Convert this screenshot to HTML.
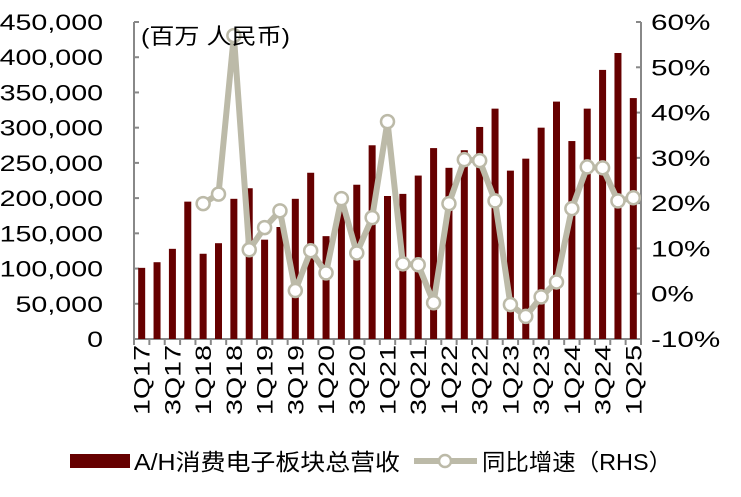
<!DOCTYPE html>
<html><head><meta charset="utf-8"><style>
body{margin:0;background:#fff;}
svg text{font-family:"Liberation Sans","Noto Sans CJK SC",sans-serif;fill:#000;}
</style></head><body>
<svg id="chart" width="741" height="492" xmlns="http://www.w3.org/2000/svg"></svg>
<script>
const categories=["1Q17","2Q17","3Q17","4Q17","1Q18","2Q18","3Q18","4Q18","1Q19","2Q19","3Q19","4Q19","1Q20","2Q20","3Q20","4Q20","1Q21","2Q21","3Q21","4Q21","1Q22","2Q22","3Q22","4Q22","1Q23","2Q23","3Q23","4Q23","1Q24","2Q24","3Q24","4Q24","1Q25"];
const revenue=[101000,109000,128000,195000,121000,136000,199000,214000,141000,159000,199000,236000,146000,183000,219000,275000,203000,206000,232000,271000,243000,268000,301000,327000,239000,256000,300000,337000,281000,327000,382000,406000,342000];
const growth=[null,null,null,null,19.9,22,57,9.7,14.6,18.3,0.7,9.5,4.6,21,9,16.8,38,6.6,6.4,-2,19.9,29.6,29.4,20.5,-2.4,-5,-0.7,2.6,18.8,28,27.8,20.5,21.2];
const leftTicks=[0,50000,100000,150000,200000,250000,300000,350000,400000,450000];
const rightTicks=[-10,0,10,20,30,40,50,60];
const svg=document.getElementById('chart');
const NS="http://www.w3.org/2000/svg";
const X0=134,X1=641,Y0=339,Y1=22;
const bw=(X1-X0)/categories.length;
const xc=i=>X0+bw*(i+0.5);
const yL=v=>Y0-(v/450000)*(Y0-Y1);
const yR=v=>Y0-((v+10)/70)*(Y0-Y1);
function mk(tag,attrs,parent){const e=document.createElementNS(NS,tag);for(const k in attrs)e.setAttribute(k,attrs[k]);(parent||svg).appendChild(e);return e;}
function stretch(t,f){const w=t.getComputedTextLength();t.setAttribute('textLength',(w*f).toFixed(1));t.setAttribute('lengthAdjust','spacingAndGlyphs');}
const ax=mk('g',{});


mk('line',{x1:X0,y1:Y1,x2:X0,y2:Y0,stroke:'#888','stroke-width':2},ax);
mk('line',{x1:X1,y1:Y1,x2:X1,y2:Y0,stroke:'#888','stroke-width':2},ax);
mk('line',{x1:X0,y1:Y0,x2:X1,y2:Y0,stroke:'#888','stroke-width':2},ax);
leftTicks.forEach(v=>{
  mk('line',{x1:X0,y1:yL(v),x2:X0+5,y2:yL(v),stroke:'#888','stroke-width':2},ax);
  const t=mk('text',{x:103,y:yL(v)+8,'text-anchor':'end','font-size':22});
  
  
  t.textContent=v.toLocaleString('en-US');
  stretch(t,1.3);
});
rightTicks.forEach(v=>{
  mk('line',{x1:X1-5,y1:yR(v),x2:X1,y2:yR(v),stroke:'#888','stroke-width':2},ax);
  const t=mk('text',{x:X1+10,y:yR(v)+8,'font-size':22});
  
  
  t.textContent=v+'%';
  stretch(t,1.35);
});
for(let i=0;i<=categories.length;i++){mk('line',{x1:X0+bw*i,y1:Y0,x2:X0+bw*i,y2:Y0+6,stroke:'#888','stroke-width':2},ax);}
categories.forEach((c,i)=>{
  if(i%2) return;
  const t=mk('text',{x:0,y:0,'font-size':22,'text-anchor':'end',transform:`translate(${xc(i)+8},${Y0+6}) rotate(-90)`});
  
  
  t.textContent=c;
  stretch(t,1.3);
});
revenue.forEach((v,i)=>{
  const r=mk('rect',{x:xc(i)-3.5,y:yL(v),width:7,height:Y0-yL(v),fill:'#660000'});
  
  
});
const pts=[];growth.forEach((v,i)=>{if(v!==null)pts.push([xc(i),yR(v)]);});
const pl=mk('polyline',{points:pts.map(p=>p.join(',')).join(' '),fill:'none',stroke:'#bcbaa8','stroke-width':6,'stroke-linejoin':'round'});


pts.forEach(p=>{
  const c=mk('circle',{cx:p[0],cy:p[1],r:6.5,fill:'#fff',stroke:'#bcbaa8','stroke-width':2.5});
  
  
});
const unit=mk('text',{x:141,y:44,'font-size':22,textLength:149,lengthAdjust:'spacingAndGlyphs'});


unit.textContent='(百万 人民币)';
const lg=mk('g',{});


mk('rect',{x:70,y:454,width:60,height:14,fill:'#660000'},lg);
const l1=mk('text',{x:134,y:470,'font-size':23,textLength:266,lengthAdjust:'spacingAndGlyphs'},lg);l1.textContent='A/H消费电子板块总营收';


mk('line',{x1:414,y1:461,x2:477,y2:461,stroke:'#bcbaa8','stroke-width':6},lg);
mk('circle',{cx:445,cy:461,r:6,fill:'#fff',stroke:'#bcbaa8','stroke-width':2.5},lg);
const l2=mk('text',{x:482,y:470,'font-size':23,textLength:190,lengthAdjust:'spacingAndGlyphs'},lg);l2.textContent='同比增速（RHS）';


</script>
</body></html>
